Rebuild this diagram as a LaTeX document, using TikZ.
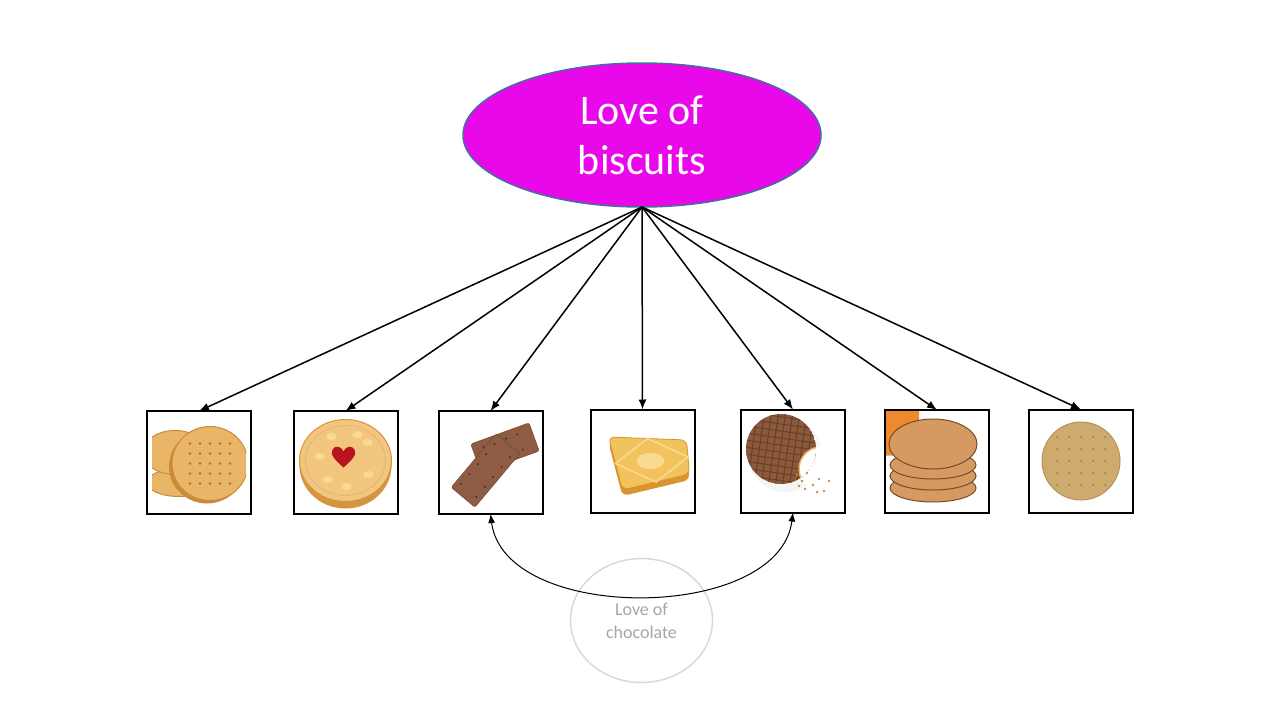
\documentclass[tikz,border=0pt]{standalone}
\usepackage{fontspec}
\setmainfont{Carlito}
\usepackage{xcolor}
\usepackage{tikz}
\usepackage{tkz-graph}
\usetikzlibrary{arrows,arrows.meta,shapes.geometric}
\definecolor{lovepink}{HTML}{E908E9}
\definecolor{loveline}{HTML}{41719C}
\definecolor{chocline}{HTML}{D9D9D9}
\definecolor{choctext}{HTML}{A6A6A6}
\definecolor{digface}{HTML}{E9B566}
\definecolor{digedge}{HTML}{C98A3C}
\definecolor{digdot}{HTML}{A96E34}
\definecolor{jamface}{HTML}{F3C680}
\definecolor{jamedge}{HTML}{D4953F}
\definecolor{jamred}{HTML}{B8141E}
\definecolor{bourface}{HTML}{8E5B43}
\definecolor{bouredge}{HTML}{6E4230}
\definecolor{bourdot}{HTML}{3A2218}
\definecolor{custface}{HTML}{F2C25C}
\definecolor{custedge}{HTML}{D8942E}
\definecolor{custlight}{HTML}{F8DA92}
\definecolor{chocface}{HTML}{8B5A3C}
\definecolor{chocdark}{HTML}{6A3F28}
\definecolor{hobface}{HTML}{D49A62}
\definecolor{hobline}{HTML}{7A4A28}
\definecolor{hoborange}{HTML}{EE8A2E}
\definecolor{teaface}{HTML}{CDAA6E}
\definecolor{teaedge}{HTML}{B8925A}
\definecolor{teadot}{HTML}{9A7A48}

\begin{document}
\begin{tikzpicture}[x=1pt,y=-1pt]
\useasboundingbox (0,0) rectangle (1280,720);
\GraphInit[vstyle=Normal]
\tikzset{VertexStyle/.style={ellipse, draw=loveline, line width=1.5pt, fill=lovepink,
  minimum width=358pt, minimum height=144pt, inner sep=0pt, align=center,
  text=white, font=\fontsize{42}{50}\selectfont}}
\Vertex[x=642,y=135,L={Love of\\biscuits}]{love}
\tikzset{VertexStyle/.style={rectangle, draw, line width=2pt, fill=white,
  minimum width=104pt, minimum height=103pt, inner sep=0pt}}
\Vertex[x=199,y=462.5,NoLabel]{dig}
\Vertex[x=345.5,y=462.5,NoLabel]{jam}
\Vertex[x=490.5,y=462.5,NoLabel]{bour}
\Vertex[x=642.5,y=461,NoLabel]{cust}
\Vertex[x=793,y=461,NoLabel]{cdig}
\Vertex[x=937,y=461.5,NoLabel]{hob}
\Vertex[x=1081,y=461,NoLabel]{rich}
\tikzset{VertexStyle/.style={ellipse, draw=chocline, line width=1.5pt,
  minimum width=142pt, minimum height=124pt, inner sep=0pt, align=center,
  text=choctext, font=\fontsize{18}{23}\selectfont}}
\Vertex[x=641.5,y=620.5,L={Love of\\chocolate}]{choc}

\begin{scope}[shift={(dig.center)}]
\clip (-47,-44) rectangle (47,44);
\draw[fill=digface, draw=digedge, line width=1pt] (-20,20) ellipse [x radius=32, y radius=14];
\draw[fill=digface, draw=digedge, line width=1pt] (-24,-10) ellipse [x radius=32, y radius=22];
\fill[digedge] (8,4) ellipse [x radius=38, y radius=37];
\draw[fill=digface, draw=digedge, line width=1pt] (11,1) ellipse [x radius=38, y radius=37];
\foreach \i in {-2,...,2} \foreach \j in {-2,...,2}
  \fill[digdot] ({11+\i*10},{1+\j*10}) circle (1.3);
\end{scope}

\begin{scope}[shift={(jam.center)}]
\fill[jamedge] (0,3) ellipse [x radius=46, y radius=43];
\draw[fill=jamface, draw=jamedge, line width=1pt] (0,-2) ellipse [x radius=46, y radius=41];
\draw[jamedge!70, line width=0.8pt] (0,-2) ellipse [x radius=40, y radius=35];
\foreach \p in {(-26,-6),(22,-20),(-18,17),(23,12),(1,24),(-14,-26),(12,-28)}
  \fill[custlight] \p ellipse [x radius=5, y radius=3.5];
\fill[jamred] (-2,5) .. controls (-10,-2) and (-16,-8) .. (-13,-13)
  .. controls (-10,-18) and (-4,-16) .. (-2,-11)
  .. controls (0,-16) and (6,-18) .. (9,-13)
  .. controls (12,-8) and (6,-2) .. (-2,5);
\end{scope}

\begin{scope}[shift={(bour.center)}]
\begin{scope}[shift={(14.5,-15)}, rotate=20]
\draw[fill=bourface, draw=bouredge, rounded corners=2pt] (-31,-15) rectangle (31,15);
\foreach \p in {(-20,-8),(-8,-8),(4,-8),(16,-8),(-20,8),(-8,8),(4,8),(16,8)}
  \fill[bourdot] \p circle (1);
\end{scope}
\begin{scope}[shift={(-5,8)}, rotate=50]
\draw[fill=bourface, draw=bouredge, rounded corners=2pt] (-35,-15.5) rectangle (35,15.5);
\foreach \p in {(-26,-10),(-13,-10),(0,-10),(13,-10),(26,-10),(-26,10),(-13,10),(0,10),(13,10),(26,10)}
  \fill[bourdot] \p circle (1);
\end{scope}
\end{scope}

\begin{scope}[shift={(cust.center)}]
\fill[custedge, rounded corners=6pt] (-34,-18) -- (44,-15) -- (47,19) -- (-20,35) -- cycle;
\draw[fill=custface, draw=custedge, line width=0.8pt, rounded corners=6pt] (-34,-24) -- (44,-21) -- (47,13) -- (-20,29) -- cycle;
\draw[custlight, line width=1.5pt] (5,-22.5) -- (45.5,-4) -- (13.5,21) -- (-27,2.5) -- cycle;
\fill[custlight] (8,0) ellipse [x radius=14, y radius=8];
\end{scope}

\begin{scope}[shift={(cdig.center)}]
\fill[gray!8] (-8,-6) circle (37);
\fill[white] (28,8) circle (22);
\begin{scope}
\clip (-12,-12) circle (35);
\fill[chocface] (-12,-12) circle (35);
\draw[chocdark, line width=1pt, rotate=-8] (-60,-60) grid[step=7pt] (60,60);
\draw[fill=white, draw=digface, line width=1.5pt] (28,8) circle (22);
\end{scope}
\foreach \p in {(4,14),(9,20),(14,12),(20,24),(26,18),(31,30),(12,28),(36,20),(6,25),(24,31)}
  \fill[digedge] \p circle (1.4);
\end{scope}

\begin{scope}[shift={(hob.center)}]
\clip (-51,-50) rectangle (51,50);
\fill[hoborange, rounded corners=8pt] (-60,-60) rectangle (-18,-6);
\foreach \y in {26.5,14.5,3.5}
  \draw[fill=hobface, draw=hobline, line width=1pt] (-4,\y) ellipse [x radius=43, y radius=14];
\draw[fill=hobface, draw=hobline, line width=1pt] (-4,-17.5) ellipse [x radius=44, y radius=25];
\end{scope}

\begin{scope}[shift={(rich.center)}]
\draw[fill=teaface, draw=teaedge, line width=1pt] (0,0) circle (39);
\foreach \i in {-2,...,2} \foreach \j in {-2,...,2}
  \fill[teadot] (\i*12,\j*12) circle (1);
\end{scope}

\tikzset{EdgeStyle/.style={-{Latex[length=10pt,width=8pt]}, line width=1.5pt}}
\Edge(love.south)(dig.north)
\Edge(love.south)(jam.north)
\Edge(love.south)(bour.north)
\Edge(love.south)(cust.north)
\Edge(love.south)(cdig.north)
\Edge(love.south)(hob.north)
\Edge(love.south)(rich.north)
\draw[{Latex[length=9pt,width=7pt]}-{Latex[length=9pt,width=7pt]}, line width=1pt] (bour.south) .. controls +(14,110) and +(-14,110) .. (cdig.south);
\end{tikzpicture}
\end{document}
